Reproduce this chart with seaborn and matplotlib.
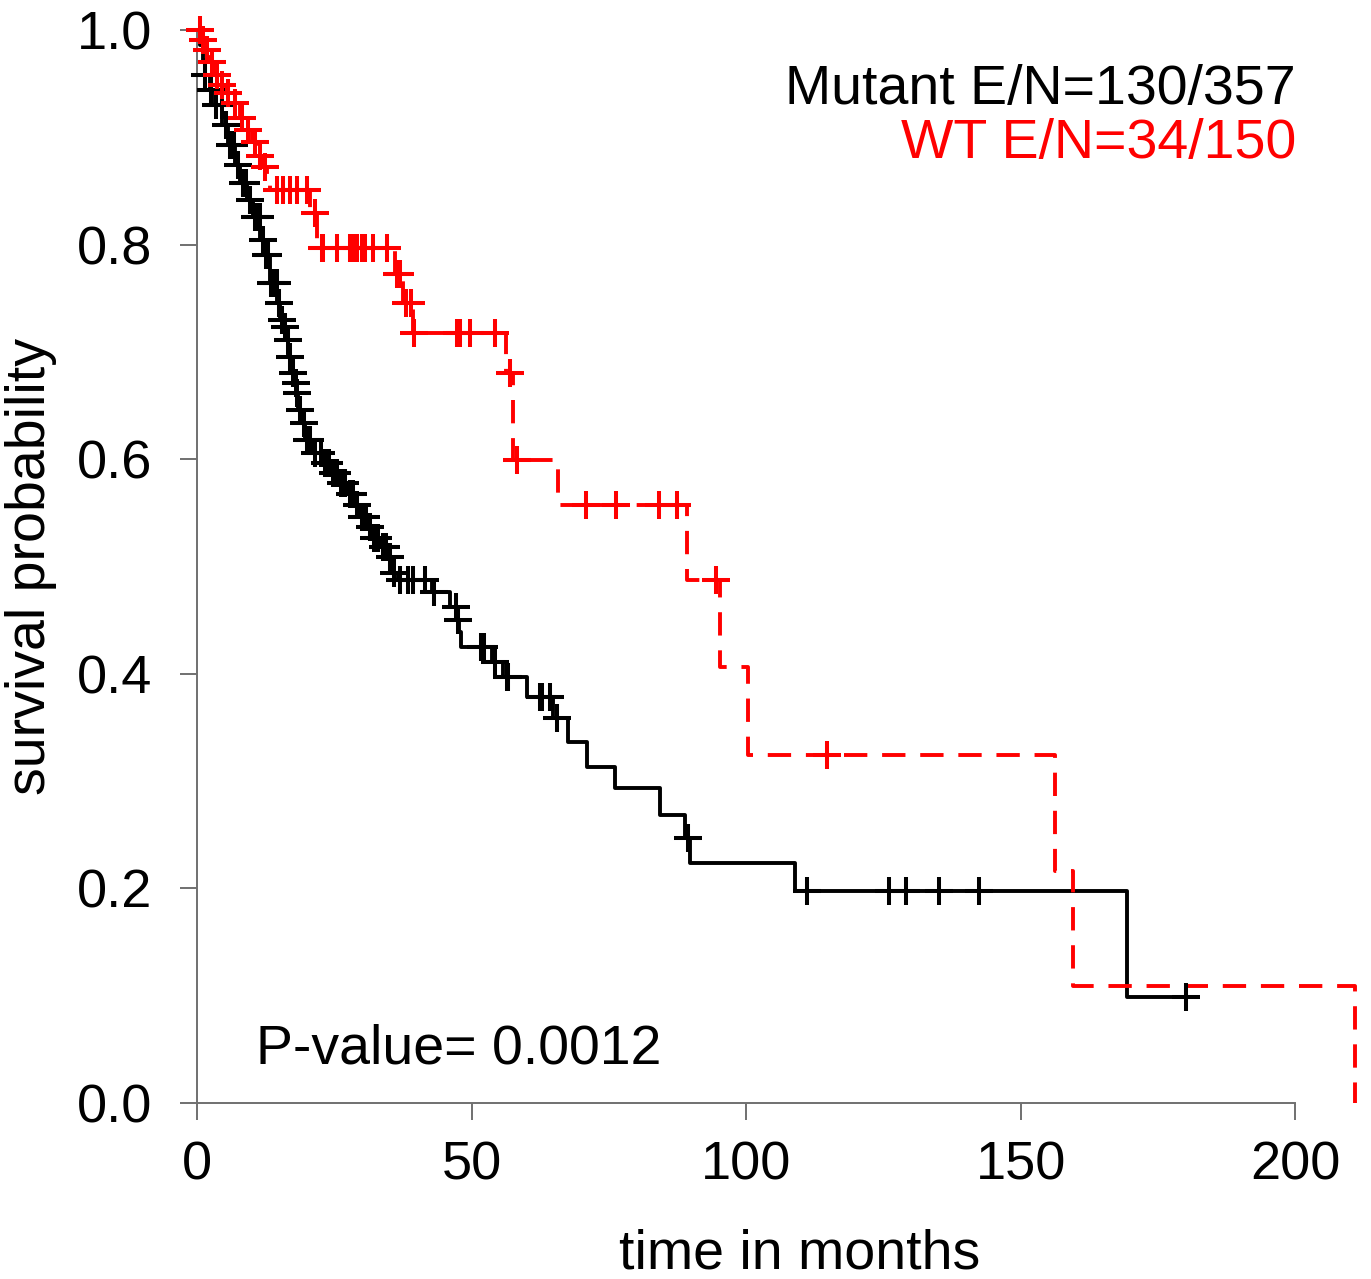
import numpy as np
import pandas as pd
import matplotlib
matplotlib.use("Agg")
import matplotlib.pyplot as plt
import seaborn as sns

# ---------------- data ----------------
# Mutant group: KM step points (time in months, survival after step)
mut_time = [0.0, 0.55, 1.09, 1.46, 2.37, 3.28, 4.55, 5.65, 6.92, 7.83, 9.1, 10.2,
            11.5, 12.4, 13.3, 14.6, 15.1, 15.7, 16.4, 16.6, 17.3, 17.9, 18.2, 18.4,
            19.1, 19.7, 20.9, 22.8, 24.6, 26.0, 27.3, 28.8, 29.7, 31.0, 32.1, 33.3,
            34.6, 35.5, 36.6, 42.8, 46.1, 47.4, 47.7, 48.1, 53.7, 55.7, 60.1, 64.8,
            67.6, 71.0, 76.1, 84.3, 88.9, 89.8, 108.9, 169.4, 180.1]
mut_surv = [1.0, 0.986, 0.972, 0.958, 0.944, 0.930, 0.911, 0.893, 0.874, 0.857, 0.842, 0.826,
            0.804, 0.790, 0.764, 0.746, 0.730, 0.723, 0.711, 0.695, 0.680, 0.671, 0.662, 0.646,
            0.634, 0.618, 0.606, 0.596, 0.587, 0.578, 0.568, 0.557, 0.546, 0.537, 0.527, 0.518,
            0.509, 0.494, 0.487, 0.476, 0.462, 0.450, 0.439, 0.425, 0.411, 0.397, 0.378, 0.359,
            0.336, 0.313, 0.294, 0.268, 0.247, 0.224, 0.198, 0.099, 0.099]
mut_censor = [1.5, 2.5, 3.5, 4.5, 5.2, 6.0, 6.8, 7.5, 8.3, 9.0, 9.6, 10.5, 10.8, 11.4,
              12.0, 12.6, 13.0, 13.5, 14.0, 14.5, 15.0, 15.4, 16.0, 16.5, 17.0, 17.5,
              18.0, 18.3, 18.8, 19.5, 20.0, 20.5, 21.5, 22.5, 23.3, 24.0, 24.8, 25.5,
              26.3, 27.0, 27.8, 28.5, 29.2, 30.0, 30.7, 31.5, 32.3, 33.0, 33.8, 34.5,
              35.2, 35.8, 37.0, 38.4, 39.3, 41.6, 43.1, 47.2, 47.6, 51.7, 52.3, 54.3,
              56.5, 56.7, 62.4, 62.9, 64.3, 65.6, 89.4, 111.1, 126.0, 129.1, 135.2,
              142.4, 180.1]

# WT group
wt_time = [0.0, 0.73, 1.46, 2.37, 3.28, 4.19, 5.28, 6.56, 7.83, 9.1, 10.0, 10.9, 11.8,
           12.8, 13.3, 20.6, 21.9, 36.1, 37.5, 39.3, 56.3, 57.6, 65.8, 89.3, 95.3,
           100.4, 156.3, 159.6, 210.9]
wt_surv = [1.0, 0.991, 0.981, 0.970, 0.958, 0.949, 0.941, 0.932, 0.918, 0.907, 0.896,
           0.883, 0.872, 0.860, 0.851, 0.829, 0.797, 0.773, 0.746, 0.718, 0.680, 0.599,
           0.557, 0.487, 0.406, 0.324, 0.216, 0.109, 0.0]
wt_censor = [0.55, 1.09, 1.82, 2.73, 3.64, 4.55, 5.65, 6.92, 8.2, 9.29, 10.56, 11.5, 12.4,
             14.6, 15.7, 16.9, 18.2, 20.0, 21.5, 22.8, 23.0, 25.5, 27.9, 28.4, 29.1,
             30.1, 30.6, 32.1, 34.6, 36.4, 37.0, 38.0, 39.0, 39.6, 47.4, 47.9, 49.7,
             54.3, 57.0, 58.3, 70.9, 76.3, 84.2, 87.4, 94.5, 114.8]

legend_labels = ["Mutant E/N=130/357", "WT E/N=34/150"]
p_text = "P-value= 0.0012"
x_ticks = [0, 50, 100, 150, 200]
y_ticks = [0.0, 0.2, 0.4, 0.6, 0.8, 1.0]

# ---------------- build frames ----------------
def step_eval(times, survs, t):
    idx = np.searchsorted(np.asarray(times), t, side="right") - 1
    return np.asarray(survs)[idx]

curve_df = pd.concat([
    pd.DataFrame({"time": mut_time, "surv": mut_surv, "group": "Mutant"}),
    pd.DataFrame({"time": wt_time, "surv": wt_surv, "group": "WT"}),
], ignore_index=True)
cens_df = pd.concat([
    pd.DataFrame({"time": mut_censor, "surv": step_eval(mut_time, mut_surv, mut_censor), "group": "Mutant"}),
    pd.DataFrame({"time": wt_censor, "surv": step_eval(wt_time, wt_surv, wt_censor), "group": "WT"}),
], ignore_index=True)

# ---------------- figure ----------------
sns.set_style("ticks")
plt.rcParams["font.family"] = ["Liberation Sans", "DejaVu Sans"]

W, H = 1371, 1279
fig = plt.figure(figsize=(W / 100, H / 100), dpi=100)
ax = fig.add_axes([197 / W, (H - 1103) / H, (1361 - 197) / W, (1103 - 30) / H])

colors = {"Mutant": "black", "WT": "#ff0000"}
styles = {"Mutant": "-", "WT": (0, (6.0, 3.8))}
for g in ["Mutant", "WT"]:
    d = curve_df[curve_df.group == g]
    sns.lineplot(data=d, x="time", y="surv", ax=ax, estimator=None, sort=False,
                 drawstyle="steps-post", color=colors[g], linewidth=2.8,
                 linestyle=styles[g], clip_on=False)
    c = cens_df[cens_df.group == g]
    sns.scatterplot(data=c, x="time", y="surv", ax=ax, marker="+", s=380,
                    color=colors[g], linewidth=2.9, clip_on=False, zorder=3)

ax.set_xlim(0, 212)
ax.set_ylim(0, 1.0)
ax.set_xticks(x_ticks)
ax.set_yticks(y_ticks)
ax.set_xticklabels([str(v) for v in x_ticks])
ax.set_yticklabels([f"{v:.1f}" for v in y_ticks])

for s in ["top", "right"]:
    ax.spines[s].set_visible(False)
ax.spines["left"].set_bounds(0, 1.0)
ax.spines["bottom"].set_bounds(0, 200)
for s in ["left", "bottom"]:
    ax.spines[s].set_color("#707070")
    ax.spines[s].set_linewidth(1.4)

ax.tick_params(axis="both", direction="out", length=12, width=1.4, color="#707070",
               labelsize=39, labelcolor="black", bottom=True, left=True)
ax.tick_params(axis="x", pad=15)
ax.tick_params(axis="y", pad=20)

ax.set_xlabel("time in months", fontsize=40, color="black")
ax.set_ylabel("survival probability", fontsize=40, color="black")
ax.xaxis.set_label_coords((800 - 197) / 1164, -0.117)
ax.yaxis.set_label_coords(-0.12, 0.5)

ax.text(0.944, 0.944, legend_labels[0], transform=ax.transAxes, ha="right", va="center",
        fontsize=40, color="black")
ax.text(0.944, 0.894, legend_labels[1], transform=ax.transAxes, ha="right", va="center",
        fontsize=40, color="#ff0000")
ax.text(10.8, 0.05, p_text, ha="left", va="center", fontsize=40, color="black")

fig.savefig("out.png", dpi=100)
